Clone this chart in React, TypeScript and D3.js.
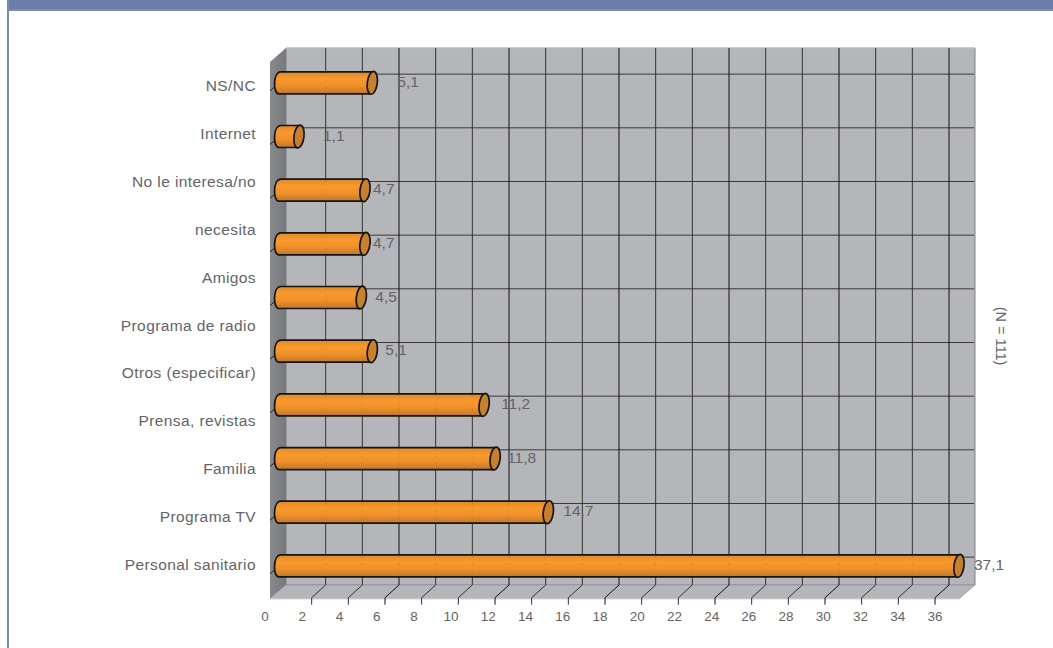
import React from "react";
import * as d3 from "d3";

const categories = ["NS/NC","Internet","No le interesa/no necesita","Amigos","Programa de radio","Otros (especificar)","Prensa, revistas","Familia","Programa TV","Personal sanitario"];
const values = [5.1,1.1,4.7,4.7,4.5,5.1,11.2,11.8,14.7,37.1];
const valueLabels = ["5,1","1,1","4,7","4,7","4,5","5,1","11,2","11,8","14,7","37,1"];
const labelGaps = [25,24,8,8,14,13,17,12,15,15];
const axisLabels = ["NS/NC","Internet","No le interesa/no","necesita","Amigos","Programa de radio","Otros (especificar)","Prensa, revistas","Familia","Programa TV","Personal sanitario"];
const ticks = d3.range(0, 38, 2);
const note = "(N = 111)";

const FONT = "'Liberation Sans', Arial, sans-serif";
const TXT = "#636467";

export default function App() {
  const x = d3.scaleLinear().domain([0, 36]).range([275, 935]);
  const xLabel = d3.scaleLinear().domain([0, 36]).range([265, 935]);
  const band = d3.scaleBand<string>().domain(categories).range([62, 598.7]);
  const labelY = d3.scalePoint<string>().domain(axisLabels).range([86, 565]);
  const dx = 14, dy = 14.7;
  const wallL = 286, wallR = 975, wallT = 48, wallB = 585;
  const frontL = 270, frontR = 959, frontB = 598.7, frontT = 62;
  const rx = 6, bh = 22;
  return (
    <svg width={1053} height={648} style={{ position: "absolute", left: 0, top: 0, background: "#fff" }}>
      <defs>
        <linearGradient id="bar" x1="0" y1="0" x2="0" y2="1">
          <stop offset="0" stopColor="#e08a2a" />
          <stop offset="0.35" stopColor="#f99a2e" />
          <stop offset="0.65" stopColor="#ee8f2a" />
          <stop offset="1" stopColor="#bd7826" />
        </linearGradient>
        <linearGradient id="lw" x1="0" y1="0" x2="1" y2="0">
          <stop offset="0" stopColor="#898a8e" />
          <stop offset="1" stopColor="#77787c" />
        </linearGradient>
      </defs>
      {/* page frame */}
      <rect x={7} y={0} width={1046} height={10} fill="#6a7ca8" />
      <rect x={7} y={9} width={1046} height={2} fill="#7b8cb1" />
      <rect x={7} y={0} width={2} height={648} fill="#7b8cb1" />

      {/* walls */}
      <polygon points={`${wallL},${wallT} ${wallR},${wallT} ${wallR},${wallB} ${wallL},${wallB}`} fill="#b5b6ba" stroke="#808185" strokeWidth={1} />
      <line x1={wallL} x2={wallR} y1={wallT} y2={wallT} stroke="#d5d6d9" />
      <polygon points={`${frontL},${frontT} ${wallL},${wallT} ${wallL},${wallB} ${frontL},${frontB}`} fill="url(#lw)" />
      <polygon points={`${wallL},${wallB} ${wallR},${wallB} ${frontR},${frontB} ${frontL},${frontB}`} fill="#b5b6ba" stroke="#9a9b9f" strokeWidth={0.8} />
      <line x1={frontL} x2={frontR} y1={frontB} y2={frontB} stroke="#c9cacd" />

      {/* grid: horizontal */}
      {categories.map(c => {
        const y = band(c)! + band.bandwidth() / 2 - dy;
        return <g key={c}>
          <line x1={wallL} x2={wallR - 1} y1={y} y2={y} stroke="#3a3a3c" strokeWidth={1} />
          <line x1={frontL} y1={y + dy + 2} x2={frontL + 6} y2={y + dy - 3} stroke="#222" strokeWidth={1} />
        </g>;
      })}
      {/* grid: vertical */}
      {ticks.slice(1).map((t, i) => (
        <path key={t} d={`M${x(t) + dx},${wallT} V${wallB} L${x(t)},${frontB - 1} V${frontB + 6}`}
          fill="none" stroke={i % 3 === 2 ? "#111" : "#333"} strokeWidth={1} />
      ))}

      {/* bars */}
      {categories.map((c, i) => {
        const cy = band(c)! + band.bandwidth() / 2 - 6;
        const x0 = x(0) + 3.8, x1 = x(values[i]) + 3.8;
        const t = cy - bh / 2, b = cy + bh / 2;
        return <g key={c}>
          <path d={`M${x0},${b} C${x0 - rx},${b} ${x0 - rx},${t} ${x0 + 2},${t} L${x1 + 1.5},${t} L${x1 - 1.5},${b} Z`}
            fill="url(#bar)" stroke="#151515" strokeWidth={1.7} strokeLinejoin="round" />
          {ticks.slice(1).filter(v => x(v) + dx < x1 - 3).map(v => (
            <line key={v} x1={x(v) + dx} x2={x(v) + dx} y1={t + 1} y2={b - 1} stroke="#8a5a20" strokeOpacity={0.25} strokeDasharray="2 5" />
          ))}
          <ellipse cx={x1} cy={cy} rx={rx - 1} ry={bh / 2 + 0.5} transform={`rotate(7 ${x1} ${cy})`}
            fill="#c6802e" stroke="#151515" strokeWidth={1.7} />
        </g>;
      })}
      {categories.map((c, i) => {
        const cy = band(c)! + band.bandwidth() / 2 - 6;
        return <text key={c} x={x(values[i]) + 3.8 + labelGaps[i]} y={cy + 4} fontFamily={FONT} fontSize={15.5} fill={TXT}>{valueLabels[i]}</text>;
      })}

      {/* labels */}
      {axisLabels.map(l => (
        <text key={l} x={256} y={labelY(l)! + 5} textAnchor="end" fontFamily={FONT} fontSize={15.5} letterSpacing={0.4} fill={TXT}>{l}</text>
      ))}
      {ticks.map(t => (
        <text key={t} x={xLabel(t)} y={621} textAnchor="middle" fontFamily={FONT} fontSize={13.5} fill={TXT}>{t}</text>
      ))}
      <text transform="translate(996,336) rotate(90)" textAnchor="middle" fontFamily={FONT} fontSize={14.5} fill={TXT}>{note}</text>
    </svg>
  );
}
